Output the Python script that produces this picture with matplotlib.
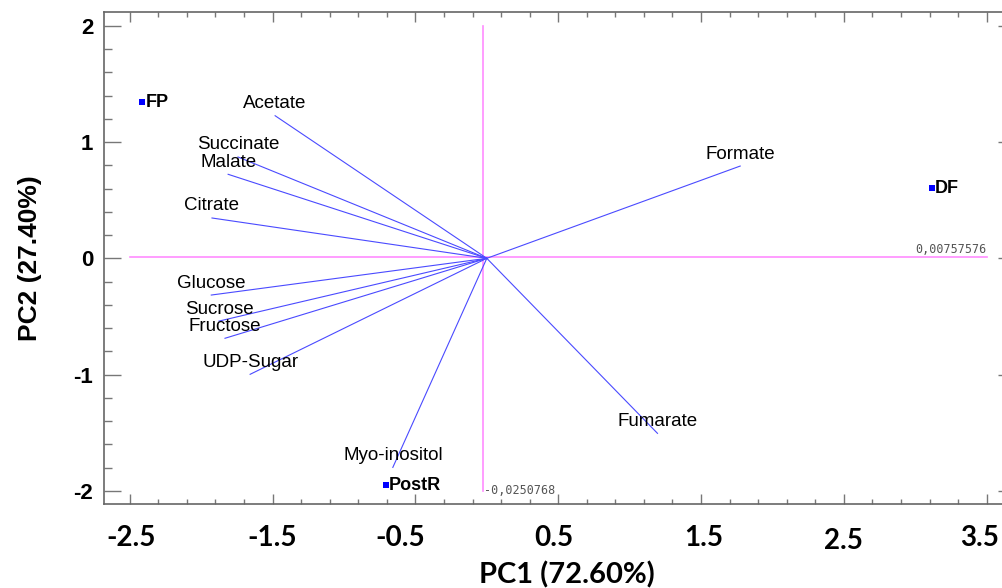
import numpy as np
import matplotlib
matplotlib.use("Agg")
import matplotlib.pyplot as plt
from matplotlib.ticker import MultipleLocator, FixedLocator
from matplotlib.transforms import ScaledTranslation

# loadings (Variablen) - Endpunkte der Vektoren
variables = ['Acetate', 'Succinate', 'Malate', 'Citrate', 'Glucose', 'Sucrose',
             'Fructose', 'UDP-Sugar', 'Myo-inositol', 'Fumarate', 'Formate']
load_pc1 = [-1.482, -1.742, -1.811, -1.924, -1.929, -1.875, -1.833, -1.657, -0.658, 1.195, 1.774]
load_pc2 = [1.227, 0.872, 0.723, 0.347, -0.316, -0.540, -0.688, -0.998, -1.799, -1.506, 0.794]

# scores (Proben)
samples = ['FP', 'DF', 'PostR']
score_pc1 = [-2.412, 3.116, -0.705]
score_pc2 = [1.342, 0.602, -1.954]

# Mittelpunkt vom Achsenkreuz
center_x = -0.0250768
center_y = 0.00757576

xtick_vals = [-2.5, -1.5, -0.5, 0.5, 1.5, 2.5, 3.5]
xtick_labels = ['-2.5', '-1.5', '-0.5', '0.5', '1.5', '2.5', '3.5']
ytick_vals = [-2, -1, 0, 1, 2]
ytick_labels = ['-2', '-1', '0', '1', '2']
# kleine Verschiebung der x-Beschriftungen in px (wie im Original eingefügt)
xtick_dx = [1, 0, -15, -4, 3, 0, -7]
xtick_dy = [0, 0, 0, 0, 0, -3, 0]

W, H = 1002, 588
fig = plt.figure(figsize=(W / 100, H / 100), dpi=100)
left, right, top, bottom = 104.3, 1004, 12.3, 504
ax = fig.add_axes([left / W, (H - bottom) / H, (right - left) / W, (bottom - top) / H])

ax.set_xlim(-2.678, 3.621)
ax.set_ylim(-2.114, 2.117)

# Achsenkreuz magenta
pink = '#ff8cff'
ax.plot([-2.5, 3.5], [center_y, center_y], color=pink, lw=1.2, zorder=1)
ax.plot([center_x, center_x], [-2, 2], color=pink, lw=1.2, zorder=1)
ax.annotate('0,00757576', (3.5, center_y), xytext=(0, 1), textcoords='offset pixels',
            fontsize=8.5, family='DejaVu Sans Mono', color='#555555', ha='right', va='bottom')
ax.annotate('-0,0250768', (center_x, -2.0), xytext=(1, 0), textcoords='offset pixels',
            fontsize=8.5, family='DejaVu Sans Mono', color='#555555', ha='left', va='center')

# Vektoren
for name, px, py in zip(variables, load_pc1, load_pc2):
    ax.plot([0, px], [0, py], color='#4a4aff', lw=0.8, zorder=2)
    ax.annotate(name, (px, py), xytext=(0, 12), textcoords='offset pixels',
                ha='center', va='center', fontsize=13.5, family='Liberation Sans', zorder=3)

# Proben
ax.scatter(score_pc1, score_pc2, marker='s', s=14, color='#0000ff', zorder=4, linewidths=0)
for name, px, py in zip(samples, score_pc1, score_pc2):
    ax.annotate(name, (px, py), xytext=(3, 0), textcoords='offset pixels',
                ha='left', va='center', fontsize=13, fontweight='bold', family='Liberation Sans')

# Achsen
ax.xaxis.set_major_locator(FixedLocator(xtick_vals))
ax.xaxis.set_minor_locator(FixedLocator(np.arange(-2.5, 3.61, 0.2)))
ax.yaxis.set_major_locator(FixedLocator(ytick_vals))
ax.yaxis.set_minor_locator(MultipleLocator(0.2))
ax.set_xticklabels(xtick_labels, fontsize=20, fontweight='bold', family='Lato')
ax.set_yticklabels(ytick_labels, fontsize=16, fontweight='bold', family='Liberation Sans')

ax.tick_params(axis='x', which='major', direction='in', top=True, length=7, width=1,
               color='#777777', pad=15)
ax.tick_params(axis='x', which='minor', direction='in', top=True, length=3.6, width=1,
               color='#777777')
ax.tick_params(axis='y', which='major', direction='in', length=12, width=1,
               color='#777777', pad=8)
ax.tick_params(axis='y', which='minor', direction='in', length=5.8, width=1,
               color='#777777')

for lab, dx, dy in zip(ax.get_xticklabels(), xtick_dx, xtick_dy):
    lab.set_transform(lab.get_transform() + ScaledTranslation(dx / 100, dy / 100, fig.dpi_scale_trans))

for s in ['left', 'bottom', 'top']:
    ax.spines[s].set_color('#666666')
    ax.spines[s].set_linewidth(1.2)
ax.spines['right'].set_visible(False)

sec = ax.secondary_yaxis('right')
sec.set_yticks(ytick_vals)
sec.set_yticklabels([])
sec.tick_params(direction='in', length=4.3, width=1, color='#777777')
sec.spines['right'].set_visible(False)

ax.set_xlabel('PC1 (72.60%)', fontsize=21, fontweight='bold', family='Lato')
ax.xaxis.set_label_coords(0.514, -0.116)
ax.set_ylabel('PC2 (27.40%)', fontsize=19, fontweight='bold', family='Liberation Sans')
ax.yaxis.set_label_coords(-0.069, 0.5)

fig.savefig('out.png', dpi=100)
